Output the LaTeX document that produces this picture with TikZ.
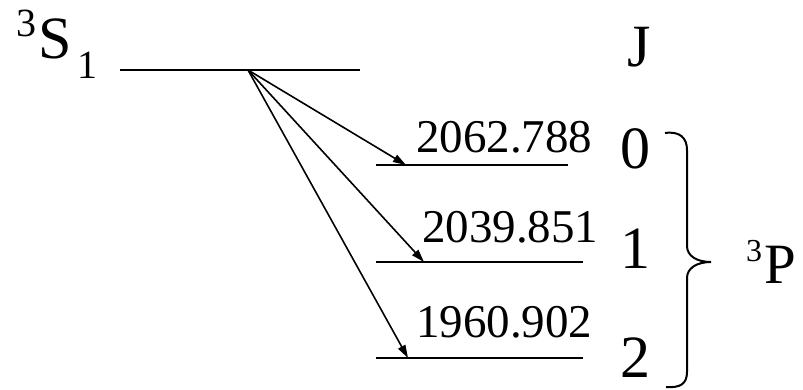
\documentclass[tikz,border=0pt]{standalone}
\usepackage{fontspec}
\setmainfont{Liberation Serif}
\newfontfamily\tnr{Liberation Serif}
\usetikzlibrary{arrows.meta}
\begin{document}
\begin{tikzpicture}[x=1pt,y=-1pt,
  level/.style={line width=2.3pt},
  trans/.style={line width=1.6pt,-{Triangle[length=13pt,width=8pt]}},
  bigtxt/.style={inner sep=0pt,anchor=base,font=\tnr\fontsize{60}{60}\selectfont},
  numtxt/.style={inner sep=0pt,anchor=base west,font=\tnr\fontsize{47}{47}\selectfont},
  suptxt/.style={inner sep=0pt,anchor=base west,font=\tnr\fontsize{40}{40}\selectfont},
  bracestyle/.style={line width=2pt}]
\useasboundingbox (0,0) rectangle (803,389);
% 3S1 label
\node[suptxt] (s3) at (16,36) {3};
\node[bigtxt,anchor=base west] (sS) at (38,58) {S};
\node[suptxt] (s1) at (77,78) {1};
% upper level
\coordinate (u0) at (120,70);
\coordinate (u1) at (360,70);
\coordinate (src) at (248,70);
\draw[level] (u0) -- (u1);
% lower levels
\coordinate (a0) at (376,165); \coordinate (b0) at (568,165);
\coordinate (a1) at (376,262); \coordinate (b1) at (583,262);
\coordinate (a2) at (376,358); \coordinate (b2) at (583,358);
\draw[level] (a0) -- (b0);
\draw[level] (a1) -- (b1);
\draw[level] (a2) -- (b2);
% arrow ends
\coordinate (t0) at (406,165);
\coordinate (t1) at (424,262);
\coordinate (t2) at (408,358);
\draw[trans] (src) -- (t0);
\draw[trans] (src) -- (t1);
\draw[trans] (src) -- (t2);
% wavenumbers
\node[numtxt] (n0) at (416,152) {2062.788};
\node[numtxt] (n1) at (422,242) {2039.851};
\node[numtxt] (n2) at (416,337) {1960.902};
% J labels
\node[bigtxt] (J) at (639,66) {J};
\node[bigtxt] (j0) at (635,168) {0};
\node[bigtxt] (j1) at (635,268) {1};
\node[bigtxt] (j2) at (635,377) {2};
% brace
\draw[bracestyle] (665,133) .. controls (680,131) and (687,138) .. (687,150)
  -- (687,246) .. controls (687,256) and (697,262) .. (711,262)
  .. controls (697,262) and (687,268) .. (687,278)
  -- (687,372) .. controls (687,384) and (680,388) .. (666,387);
% 3P label
\node[inner sep=0pt,anchor=base west,font=\tnr\fontsize{32}{32}\selectfont] (p3) at (746,261) {3};
\node[inner sep=0pt,anchor=base west,font=\tnr\fontsize{57}{57}\selectfont] (pP) at (764,283) {P};
\end{tikzpicture}
\end{document}
